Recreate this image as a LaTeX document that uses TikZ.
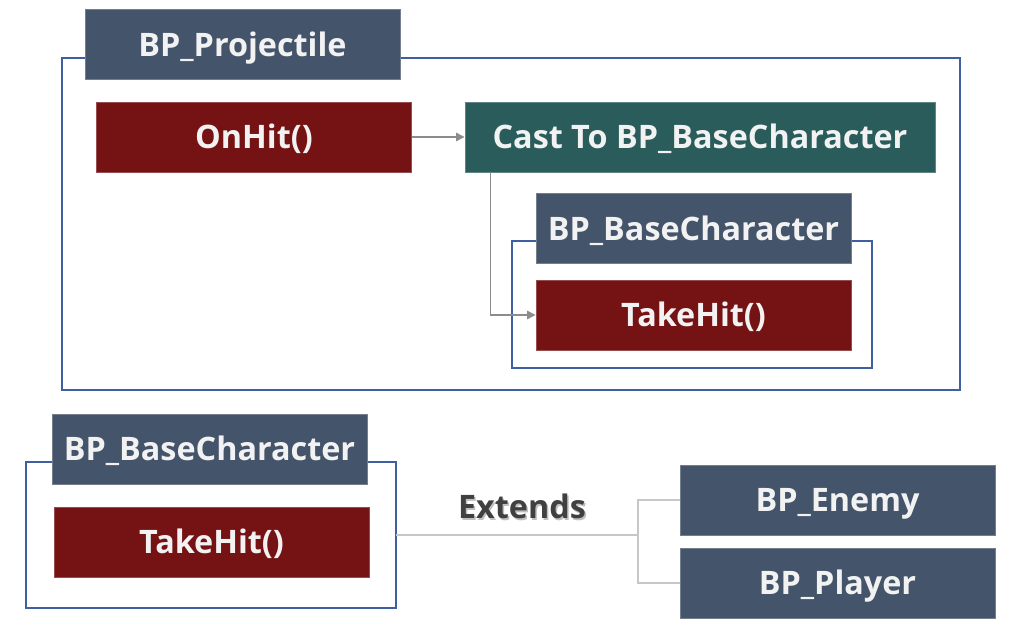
\documentclass[tikz,border=0pt]{standalone}
\usepackage{fontspec}
\setmainfont{Open Sans}
\usetikzlibrary{arrows.meta}
\definecolor{hdrblue}{HTML}{44546A}
\definecolor{fnred}{HTML}{751214}
\definecolor{castteal}{HTML}{2A5C5C}
\definecolor{framblue}{HTML}{3F5FA0}
\definecolor{txtgray}{HTML}{404040}
\tikzset{box/.style={rectangle, fill=#1, draw=#1!75!white, line width=0.6pt,
      text=white!95!black, font=\fontsize{23}{27}\selectfont\bfseries,
      text height=20pt, text depth=3.5pt,
      minimum width=7.875cm, minimum height=1.75cm, inner sep=0pt},
  header/.style={box=hdrblue},
  fnbox/.style={box=fnred},
  castbox/.style={box=castteal, minimum width=11.75cm},
  frame/.style={draw=framblue, line width=1pt},
  flow/.style={draw=black!45, line width=1pt, -{Triangle[length=6pt,width=6pt]}},
  extline/.style={draw=black!22, line width=1pt},
  exttext/.style={font=\fontsize{23}{27}\selectfont\bfseries}}

\begin{document}
\begin{tikzpicture}[x=0.025cm,y=-0.025cm]
		\useasboundingbox (0,0) rectangle (1024,643);
		% projectile
		\draw[frame] (62,58) rectangle (960,390);
		\node[header] (proj) at (242.5,44.5) {BP\_Projectile};
		\node[fnbox] (onhit) at (254,137) {OnHit()};
		\node[castbox] (cast) at (700,137) {Cast To BP\_BaseCharacter};
		\draw[frame] (512,241) rectangle (872,368);
		\node[header] (basechar) at (693.5,228.5) {BP\_BaseCharacter};
		\node[fnbox] (takehit) at (693.5,315) {TakeHit()};
		\draw[flow] (onhit) -- (cast);
		\draw[flow] ([xshift=0.65cm]cast.south west) |- (takehit);
		% base class
		\draw[frame] (26,462) rectangle (396,608);
		\node[header] (base) at (209.5,449) {BP\_BaseCharacter};
		\node[fnbox] (basehit) at (211.5,542) {TakeHit()};
		\node[header] (enemy) at (837.5,500) {BP\_Enemy};
		\node[header] (player) at (837.5,583) {BP\_Player};
		\coordinate (frameR) at (396,535);
		\coordinate (split) at (638,535);
		\draw[extline] (frameR) -- (split);
		\draw[extline] (enemy.west) -| (split) |- (player.west);
		\node[exttext, text=black!25] at (523.5,508) {Extends};
		\node[exttext, text=txtgray] (ext) at (522,506) {Extends};
\end{tikzpicture}
\end{document}
